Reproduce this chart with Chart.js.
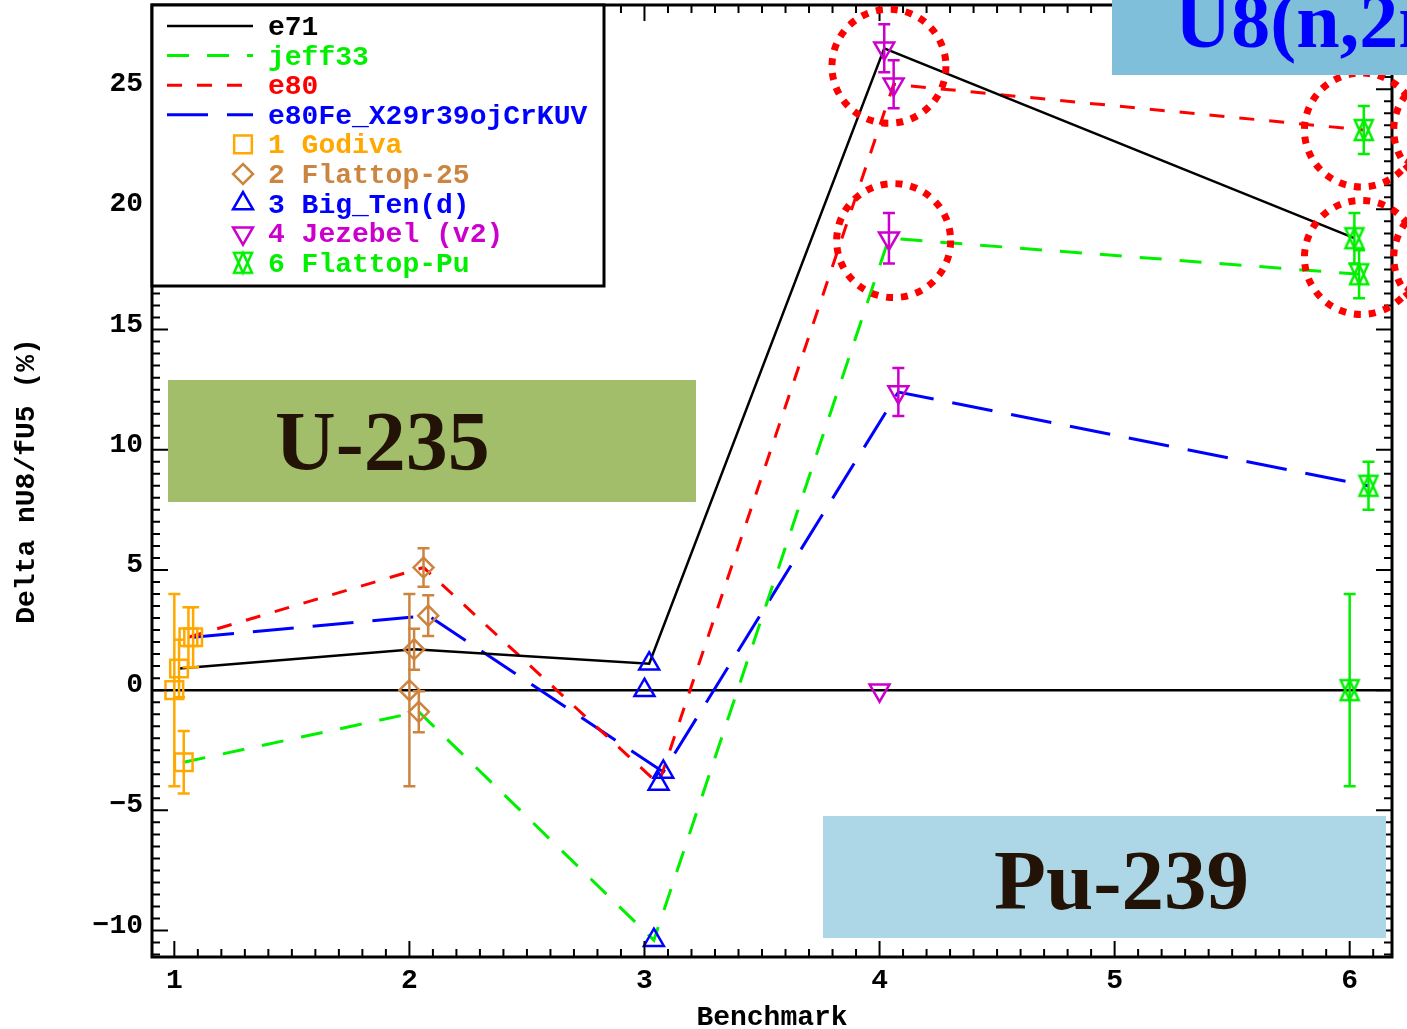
<!DOCTYPE html>
<html>
<head>
    <meta charset="utf-8">
    <title>Delta nU8/fU5 by benchmark</title>
    <script src="https://cdn.jsdelivr.net/npm/chart.js"></script>
    <style>
        body {
            margin: 0;
            background: #fff;
        }

        #wrap {
            position: relative;
            width: 1407px;
            height: 1029px;
            overflow: hidden;
        }

        #chart {
            position: absolute;
            left: 0;
            top: 0;
        }

        /* coloured label boxes laid over the plot */
        .tag {
            position: absolute;
            overflow: hidden;
        }

        .tag span {
            position: absolute;
            font-family: 'Liberation Serif', 'Times New Roman', serif;
            font-weight: bold;
            line-height: 1;
            white-space: nowrap;
        }
    </style>
</head>
<body>
<div id="wrap">
    <canvas id="chart" width="1407" height="1029"></canvas>
    <div class="tag" style="left:168px; top:380px; width:528px; height:122px; background:#a2be6b;">
        <span style="left:107px; top:20px; font-size:84px; color:#221306;">U-235</span>
    </div>
    <div class="tag" style="left:823px; top:816px; width:563px; height:122px; background:#add7e6;">
        <span style="left:171px; top:22px; font-size:85px; color:#221306;">Pu-239</span>
    </div>
    <div class="tag" style="left:1112px; top:0px; width:300px; height:75px; background:#7fbfd9;">
        <span style="left:63px; top:-18px; font-size:78px; color:#0000ff;">U8(n,2n)</span>
    </div>
</div>
<script>
    // benchmark markers (experiment = 0 reference)
    const benchmarkNames = ['1 Godiva', '2 Flattop-25', '3 Big_Ten(d)', '4 Jezebel (v2)', '6 Flattop-Pu'];
    const benchmarkColors = ['#ffa800', '#cc8540', '#0000ff', '#cc00cc', '#00f000'];
    const refX = [1, 2, 3, 4, 6];
    const refY = [0, 0, 0, 0, 0];
    const refErr = [4.0, 4.0, 0, 0, 4.0];

    // calculated series
    const seriesNames = ['e71', 'jeff33', 'e80', 'e80Fe_X29r39ojCrKUV'];
    const e71X = [1.02, 2.02, 3.02, 4.02, 6.02];
    const e71Y = [0.9, 1.7, 1.1, 26.7, 18.8];
    const e71Err = [1.2, 0.85, 0, 1.0, 1.05];
    const jeff33X = [1.04, 2.04, 3.04, 4.04, 6.04];
    const jeff33Y = [-3.0, -0.9, -10.4, 18.8, 17.3];
    const jeff33Err = [1.3, 0.85, 0, 1.05, 1.0];
    const e80X = [1.06, 2.06, 3.06, 4.06, 6.06];
    const e80Y = [2.2, 5.1, -3.9, 25.2, 23.3];
    const e80Err = [1.25, 0.8, 0, 1.0, 1.0];
    const e80FeX = [1.08, 2.08, 3.08, 4.08, 6.08];
    const e80FeY = [2.2, 3.1, -3.4, 12.4, 8.5];
    const e80FeErr = [1.25, 0.85, 0, 1.0, 1.0];

    // highlighted spots (red dotted rings)
    const ringX = [4.04, 4.06, 6.05, 6.05, 6.43, 6.43];
    const ringY = [25.95, 18.7, 23.3, 18.0, 23.3, 18.0];

    const monoFont = "'Liberation Mono', 'DejaVu Sans Mono', monospace";

    const seriesX = [e71X, jeff33X, e80X, e80FeX];
    const seriesY = [e71Y, jeff33Y, e80Y, e80FeY];
    const seriesErr = [e71Err, jeff33Err, e80Err, e80FeErr];
    const seriesColors = ['#000000', '#00f000', '#ff0000', '#0000ff'];
    const seriesDash = [[], [22, 18], [15, 15], [41, 19]];
    const seriesWidth = [2.5, 3, 3, 3];

    // up + down triangle marker for Flattop-Pu
    function makeStar(color) {
        const c = document.createElement('canvas');
        c.width = 24;
        c.height = 26;
        const g = c.getContext('2d');
        g.strokeStyle = color;
        g.lineWidth = 2.5;
        g.beginPath();
        g.moveTo(3, 23); g.lineTo(12, 3); g.lineTo(21, 23); g.closePath();
        g.moveTo(3, 3); g.lineTo(12, 23); g.lineTo(21, 3); g.closePath();
        g.stroke();
        return c;
    }
    const starImg = makeStar(benchmarkColors[4]);

    const markerStyles = [
        {style: 'rect', radius: 12.5, rot: 0},
        {style: 'rectRot', radius: 10, rot: 0},
        {style: 'triangle', radius: 11.5, rot: 0},
        {style: 'triangle', radius: 11.5, rot: 180},
        {style: starImg, radius: 10, rot: 0}
    ];

    const datasets = [];

    // markers, one dataset per benchmark
    benchmarkNames.forEach((name, b) => {
        const pts = [{x: refX[b], y: refY[b]}];
        const errs = [refErr[b]];
        seriesX.forEach((xs, s) => {
            pts.push({x: xs[b], y: seriesY[s][b]});
            errs.push(seriesErr[s][b]);
        });
        datasets.push({
            label: name,
            data: pts,
            errs: errs,
            showLine: false,
            pointStyle: markerStyles[b].style,
            pointRadius: markerStyles[b].radius,
            rotation: markerStyles[b].rot,
            borderColor: benchmarkColors[b],
            backgroundColor: 'rgba(0,0,0,0)',
            borderWidth: 2.5,
            order: 0
        });
    });

    // connecting lines, one per library
    seriesNames.forEach((name, s) => {
        datasets.push({
            label: name,
            data: seriesX[s].map((x, i) => ({x: x, y: seriesY[s][i]})),
            showLine: true,
            pointRadius: 0,
            borderColor: seriesColors[s],
            borderWidth: seriesWidth[s],
            borderDash: seriesDash[s],
            tension: 0,
            fill: false,
            order: 1
        });
    });

    const zeroLine = {
        id: 'zeroLine',
        beforeDatasetsDraw(chart) {
            const {ctx, chartArea: a, scales: {y}} = chart;
            const py = y.getPixelForValue(0);
            ctx.save();
            ctx.strokeStyle = '#000';
            ctx.lineWidth = 2.5;
            ctx.beginPath();
            ctx.moveTo(a.left, py);
            ctx.lineTo(a.right, py);
            ctx.stroke();
            ctx.restore();
        }
    };

    const errorBars = {
        id: 'errorBars',
        afterDatasetsDraw(chart) {
            const {ctx, scales: {x, y}} = chart;
            ctx.save();
            chart.data.datasets.forEach(ds => {
                if (!ds.errs) return;
                ctx.strokeStyle = ds.borderColor;
                ctx.lineWidth = 2.5;
                ds.data.forEach((p, i) => {
                    const e = ds.errs[i];
                    if (!e) return;
                    const px = x.getPixelForValue(p.x);
                    const top = y.getPixelForValue(p.y + e);
                    const bot = y.getPixelForValue(p.y - e);
                    ctx.beginPath();
                    ctx.moveTo(px, top); ctx.lineTo(px, bot);
                    ctx.moveTo(px - 6, top); ctx.lineTo(px + 6, top);
                    ctx.moveTo(px - 6, bot); ctx.lineTo(px + 6, bot);
                    ctx.stroke();
                });
            });
            ctx.restore();
        }
    };

    // box round the plot with inward ticks on all four sides
    const frame = {
        id: 'frame',
        afterDatasetsDraw(chart) {
            const {ctx, chartArea: a, scales: {x, y}} = chart;
            ctx.save();
            ctx.strokeStyle = '#000';
            ctx.lineWidth = 2;
            ctx.beginPath();
            for (let k = 10; k <= 61; k++) {
                const px = x.getPixelForValue(k / 10);
                const len = k % 10 === 0 ? 16 : 8;
                ctx.moveTo(px, a.bottom); ctx.lineTo(px, a.bottom - len);
                ctx.moveTo(px, a.top); ctx.lineTo(px, a.top + len);
            }
            for (let k = -22; k <= 57; k++) {
                const py = y.getPixelForValue(k / 2);
                const len = k % 10 === 0 ? 16 : 8;
                ctx.moveTo(a.left, py); ctx.lineTo(a.left + len, py);
                ctx.moveTo(a.right, py); ctx.lineTo(a.right - len, py);
            }
            ctx.stroke();
            ctx.lineWidth = 3;
            ctx.strokeRect(a.left, a.top, a.right - a.left, a.bottom - a.top);
            ctx.restore();
        }
    };

    function drawMarker(g, b, cx, cy) {
        const m = markerStyles[b];
        g.strokeStyle = benchmarkColors[b];
        g.lineWidth = 2.5;
        g.beginPath();
        if (m.style === 'rect') {
            const h = m.radius * Math.SQRT1_2;
            g.rect(cx - h, cy - h, 2 * h, 2 * h);
        } else if (m.style === 'rectRot') {
            g.moveTo(cx, cy - m.radius); g.lineTo(cx + m.radius, cy);
            g.lineTo(cx, cy + m.radius); g.lineTo(cx - m.radius, cy);
            g.closePath();
        } else if (m.style === 'triangle') {
            const s = m.rot ? -1 : 1;
            const r = m.radius;
            g.moveTo(cx, cy - s * r);
            g.lineTo(cx + 0.866 * r, cy + s * r / 2);
            g.lineTo(cx - 0.866 * r, cy + s * r / 2);
            g.closePath();
        } else {
            g.drawImage(m.style, cx - m.style.width / 2, cy - m.style.height / 2);
            return;
        }
        g.stroke();
    }

    const legendBox = {
        id: 'legendBox',
        afterDraw(chart) {
            const {ctx, chartArea: a} = chart;
            const left = a.left, top = a.top, w = 452, h = 281;
            ctx.save();
            ctx.fillStyle = '#fff';
            ctx.fillRect(left, top, w, h);
            ctx.strokeStyle = '#000';
            ctx.lineWidth = 3;
            ctx.strokeRect(left, top, w, h);
            ctx.font = 'bold 28px ' + monoFont;
            ctx.textBaseline = 'middle';
            const rowH = 29.6;
            let ry = top + 21;
            seriesNames.forEach((name, s) => {
                ctx.strokeStyle = seriesColors[s];
                ctx.lineWidth = seriesWidth[s];
                ctx.setLineDash(seriesDash[s]);
                ctx.beginPath();
                ctx.moveTo(left + 15, ry);
                ctx.lineTo(left + 101, ry);
                ctx.stroke();
                ctx.setLineDash([]);
                ctx.fillStyle = seriesColors[s];
                ctx.fillText(name, left + 116, ry + 2);
                ry += rowH;
            });
            benchmarkNames.forEach((name, b) => {
                drawMarker(ctx, b, left + 91, ry);
                ctx.fillStyle = benchmarkColors[b];
                ctx.fillText(name, left + 116, ry + 2);
                ry += rowH;
            });
            ctx.restore();
        }
    };

    const rings = {
        id: 'rings',
        afterDraw(chart) {
            const {ctx, scales: {x, y}} = chart;
            ctx.save();
            ctx.strokeStyle = '#ff0000';
            ctx.lineWidth = 7;
            ctx.setLineDash([7, 8]);
            ringX.forEach((rx, i) => {
                ctx.beginPath();
                ctx.arc(x.getPixelForValue(rx), y.getPixelForValue(ringY[i]), 57, 0, 2 * Math.PI);
                ctx.stroke();
            });
            ctx.restore();
        }
    };

    new Chart(document.getElementById('chart').getContext('2d'), {
        type: 'scatter',
        data: {datasets: datasets},
        options: {
            responsive: false,
            animation: false,
            layout: {autoPadding: false, padding: {top: 5, right: 15, left: 0, bottom: 0}},
            plugins: {
                legend: {display: false},
                tooltip: {enabled: false}
            },
            scales: {
                x: {
                    type: 'linear',
                    min: 0.905,
                    max: 6.18,
                    grid: {display: false, drawTicks: false},
                    border: {display: false},
                    ticks: {
                        stepSize: 1,
                        includeBounds: false,
                        padding: 7,
                        color: '#000',
                        font: {family: monoFont, size: 28, weight: 'bold'},
                        callback: v => Number.isInteger(v) ? String(v) : ''
                    },
                    title: {
                        display: true,
                        text: 'Benchmark',
                        color: '#000',
                        padding: {top: 0, bottom: -3},
                        font: {family: monoFont, size: 28, weight: 'bold', lineHeight: 1}
                    },
                    afterFit: s => {
                        s.height = 72;
                        s.paddingLeft = 0;
                        s.paddingRight = 0;
                    }
                },
                y: {
                    type: 'linear',
                    min: -11.1,
                    max: 28.5,
                    grid: {display: false, drawTicks: false},
                    border: {display: false},
                    ticks: {
                        stepSize: 5,
                        includeBounds: false,
                        padding: 9,
                        labelOffset: -5,
                        color: '#000',
                        font: {family: monoFont, size: 28, weight: 'bold'},
                        callback: v => Number.isInteger(v / 5) ? String(v).replace('-', '\u2212') : ''
                    },
                    title: {
                        display: true,
                        text: 'Delta nU8/fU5 (%)',
                        color: '#000',
                        padding: {top: 13, bottom: 0},
                        font: {family: monoFont, size: 28, weight: 'bold', lineHeight: 1}
                    },
                    afterFit: s => {
                        s.width = 152;
                        s.paddingTop = 0;
                        s.paddingBottom = 0;
                    }
                }
            }
        },
        plugins: [zeroLine, errorBars, frame, legendBox, rings]
    });
</script>
</body>
</html>
